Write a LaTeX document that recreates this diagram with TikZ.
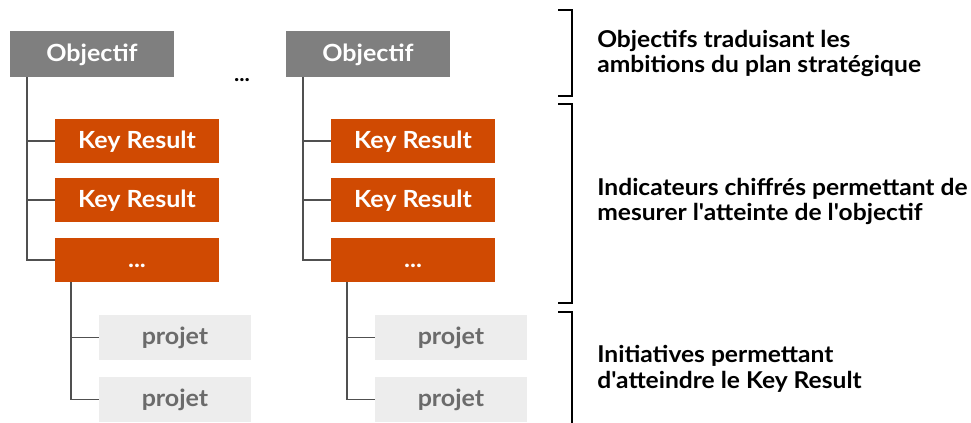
\documentclass[tikz,border=0pt]{standalone}
\usepackage{fontspec}
\setmainfont{Lato}[FakeStretch=1.06]
\usepackage{xcolor}
\usepackage{tikz}

\definecolor{objgray}{HTML}{7F7F7F}
\definecolor{krorange}{HTML}{D04A02}
\definecolor{projfill}{HTML}{EDEDED}
\definecolor{projtext}{HTML}{6B6B6B}
\definecolor{treegray}{HTML}{505050}

\begin{document}
\begin{tikzpicture}[%
% common options for the boxes:
box/.style = {rectangle, inner sep=0, text height=11.5pt, text depth=1pt,
            font=\fontsize{16.8}{20}\selectfont\bfseries},
obj/.style = {box, fill=objgray, text=white, minimum width=4.1cm, minimum height=1.15cm},
kr/.style = {box, fill=krorange, text=white, minimum width=4.1cm, minimum height=1.1cm},
proj/.style = {box, fill=projfill, text=projtext, minimum width=3.8cm, minimum height=1.125cm},
% common options for the lines:
tree/.style = {draw=treegray, line width=1.4pt},
bracket/.style = {draw=black, line width=0.8pt},
note/.style = {anchor=base west, align=left, inner sep=0,
            font=\fontsize{16.5}{18.1}\selectfont\bfseries}]
\useasboundingbox (0,0) rectangle (24.275,-10.575);
% first objective
\node[obj] (O1) at (2.3,-1.35) {Objectif};
\node[kr] (K11) at (3.425,-3.525) {Key Result};
\node[kr] (K12) at (3.425,-5.0) {Key Result};
\node[kr] (K13) at (3.425,-6.5) {...};
\node[proj] (P11) at (4.375,-8.4375) {projet};
\node[proj] (P12) at (4.375,-9.9875) {projet};
% second objective
\node[obj] (O2) at (9.2,-1.35) {Objectif};
\node[kr] (K21) at (10.325,-3.525) {Key Result};
\node[kr] (K22) at (10.325,-5.0) {Key Result};
\node[kr] (K23) at (10.325,-6.5) {...};
\node[proj] (P21) at (11.275,-8.4375) {projet};
\node[proj] (P22) at (11.275,-9.9875) {projet};
\node[font=\fontsize{15}{18}\selectfont\bfseries] (more) at (6.05,-2.0) {...};
\draw[tree] ([xshift=0.425cm]O1.south west) |- (K11.west);
\draw[tree] ([xshift=0.425cm]O1.south west) |- (K12.west);
\draw[tree] ([xshift=0.425cm]O1.south west) |- (K13.west);
\draw[tree] ([xshift=0.4cm]K13.south west) |- (P11.west);
\draw[tree] ([xshift=0.4cm]K13.south west) |- (P12.west);
\draw[tree] ([xshift=0.425cm]O2.south west) |- (K21.west);
\draw[tree] ([xshift=0.425cm]O2.south west) |- (K22.west);
\draw[tree] ([xshift=0.425cm]O2.south west) |- (K23.west);
\draw[tree] ([xshift=0.4cm]K23.south west) |- (P21.west);
\draw[tree] ([xshift=0.4cm]K23.south west) |- (P22.west);
% legend on the right
\draw[bracket] (13.95,-0.25) -- (14.3,-0.25) -- (14.3,-2.4) -- (13.95,-2.4);
\draw[bracket] (13.95,-2.6) -- (14.3,-2.6) -- (14.3,-7.575) -- (13.95,-7.575);
\draw[bracket] (13.95,-7.8) -- (14.3,-7.8) -- (14.3,-10.575);
\node[note] (N1) at (14.925,-1.8175) {Objectifs traduisant les\\ambitions du plan stratégique};
\node[note] (N2) at (14.925,-5.5175) {Indicateurs chiffrés permettant de\\mesurer l\textquotesingle atteinte de l\textquotesingle objectif};
\node[note] (N3) at (14.925,-9.7075) {Initiatives permettant\\d\textquotesingle atteindre le Key Result};
\end{tikzpicture}
\end{document}
